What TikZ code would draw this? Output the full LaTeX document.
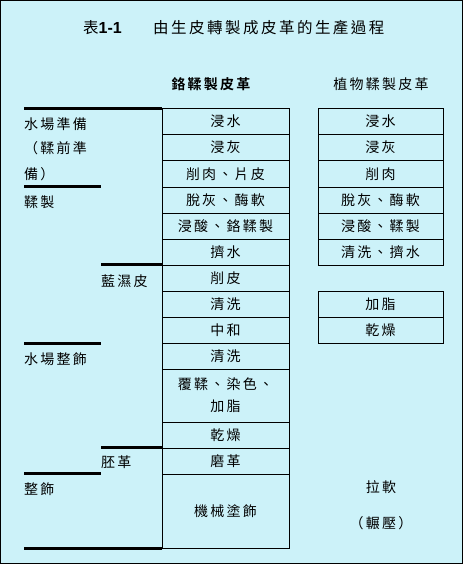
\documentclass[tikz,border=0pt]{standalone}
\usepackage{fontspec}
\newfontfamily\cjk[LetterSpace=16,BoldFont={Noto Sans CJK TC Bold}]{Noto Sans CJK TC}
\newfontfamily\latn{Liberation Sans}
\usepackage{tikz}
\definecolor{paper}{RGB}{204,242,249}

\begin{document}
\begin{tikzpicture}[x=1pt,y=-1pt,
    txt/.style={inner sep=0pt,font=\cjk\fontsize{14}{16}\selectfont},
    cell/.style={txt,draw,minimum width=127pt,minimum height=26.1pt},
    vcell/.style={cell,minimum width=125pt},
    lbl/.style={txt,anchor=west},
    bar/.style={line width=3pt}]
    \useasboundingbox (0,0) rectangle (463,564);
    \draw[fill=paper,line width=1pt] (0.5,0.5) rectangle (462.5,563.5);

    \node[txt,anchor=west,font=\cjk\fontsize{15.5}{16}\selectfont] (no) at (83,28) {表{\latn\bfseries\fontsize{16}{16}\selectfont 1-1}};
    \node[txt,anchor=west,font=\cjk\fontsize{15.5}{16}\selectfont] (title) at (153,28) {由生皮轉製成皮革的生產過程};
    \node[txt,font=\cjk\bfseries\fontsize{14}{16}\selectfont] (hcr) at (211,84) {鉻鞣製皮革};
    \node[txt] (hveg) at (381,84) {植物鞣製皮革};

    \foreach \t [count=\i] in {浸水,浸灰,削肉、片皮,脫灰、酶軟,浸酸、鉻鞣製,擠水,削皮,清洗,中和,清洗}
      \node[cell] (m\i) at (225.5,{108.5+26.1*(\i-0.5)}) {\t};
    \node[cell,minimum height=52.2pt,align=center,font=\cjk\fontsize{14}{22}\selectfont] (m11) at (225.5,395.6) {覆鞣、染色、\\加脂};
    \node[cell] (m12) at (225.5,434.75) {乾燥};
    \node[cell] (m13) at (225.5,460.85) {磨革};
    \node[cell,minimum height=74.1pt] (m14) at (225.5,510.95) {機械塗飾};

    \foreach \t [count=\i] in {浸水,浸灰,削肉,脫灰、酶軟,浸酸、鞣製,清洗、擠水}
      \node[vcell] (v\i) at (380.5,{108.5+26.1*(\i-0.5)}) {\t};
    \node[vcell] (v7) at (380.5,304.25) {加脂};
    \node[vcell] (v8) at (380.5,330.35) {乾燥};
    \node[txt] (v9) at (381,487) {拉軟};
    \node[txt] (v10) at (381,523) {（輾壓）};

    \draw[bar] (m1.north west) -- +(-138,0);
    \draw[bar] ([xshift=-61pt]m4.north west) -- +(-77,0);
    \draw[bar] (m7.north west) -- +(-61,0);
    \draw[bar] ([xshift=-61pt]m10.north west) -- +(-77,0);
    \draw[bar] (m13.north west) -- +(-61,0);
    \draw[bar] ([xshift=-61pt]m14.north west) -- +(-77,0);
    \draw[bar] (m14.south west) -- +(-138,0);

    \node[lbl] (prep) at (24,124) {水場準備};
    \node[lbl] (prep2) at (24,148) {（鞣前準};
    \node[lbl] (prep3) at (24,174) {備）};
    \node[lbl] (tan) at (24,202) {鞣製};
    \node[lbl] (wb) at (101,281) {藍濕皮};
    \node[lbl] (wet) at (24,359) {水場整飾};
    \node[lbl] (crust) at (101,462) {胚革};
    \node[lbl] (fin) at (24,489) {整飾};
  \end{tikzpicture}
\end{document}
